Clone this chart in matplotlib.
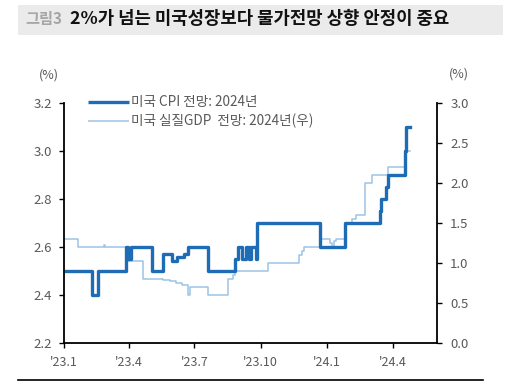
import matplotlib
matplotlib.use("Agg")
import matplotlib.pyplot as plt
from matplotlib.patches import Rectangle
from matplotlib.lines import Line2D
import pandas as pd

plt.rcParams['font.family'] = ['Noto Sans CJK KR', 'DejaVu Sans']

# US CPI forecast for 2024 (left axis, %), step changes
cpi_dates = ["2023-01-01", "2023-02-09", "2023-02-18", "2023-03-28", "2023-03-31", "2023-04-04",
             "2023-05-03", "2023-05-19", "2023-05-31", "2023-06-07", "2023-06-17", "2023-06-22",
             "2023-07-20", "2023-08-27", "2023-08-30", "2023-09-05", "2023-09-11", "2023-09-15",
             "2023-09-18", "2023-09-24", "2023-09-26", "2023-12-22", "2024-01-26", "2024-03-14",
             "2024-03-16", "2024-03-22", "2024-03-25", "2024-04-18", "2024-04-19", "2024-04-25"]
cpi_values = [2.5, 2.4, 2.5, 2.6, 2.55, 2.6,
              2.5, 2.57, 2.54, 2.56, 2.57, 2.6,
              2.5, 2.55, 2.6, 2.55, 2.6, 2.55,
              2.6, 2.55, 2.7, 2.6, 2.7, 2.75,
              2.8, 2.85, 2.9, 3.0, 3.1, 3.1]

# US real GDP forecast for 2024 (right axis, %), step changes
gdp_dates = ["2023-01-01", "2023-01-21", "2023-02-26", "2023-02-28", "2023-03-28", "2023-03-31",
             "2023-04-21", "2023-05-19", "2023-05-28", "2023-06-06", "2023-06-14", "2023-06-23",
             "2023-06-25", "2023-07-20", "2023-08-17", "2023-08-24", "2023-08-26", "2023-10-11",
             "2023-11-23", "2023-11-27", "2023-11-30", "2023-12-22", "2024-01-05", "2024-01-08",
             "2024-01-10", "2024-01-13", "2024-01-26", "2024-02-04", "2024-02-10", "2024-02-23",
             "2024-03-03", "2024-03-25", "2024-04-18", "2024-04-25"]
gdp_values = [1.3, 1.2, 1.22, 1.2, 1.05, 1.03,
              0.8, 0.79, 0.77, 0.75, 0.73, 0.6,
              0.7, 0.6, 0.8, 0.85, 0.9, 1.0,
              1.1, 1.15, 1.2, 1.3, 1.25, 1.2,
              1.27, 1.3, 1.5, 1.55, 1.6, 2.0,
              2.1, 2.2, 2.4, 2.4]

x_ticks = ["2023-01-01", "2023-04-01", "2023-07-01", "2023-10-01", "2024-01-01", "2024-04-01"]
x_tick_labels = ["'23.1", "'23.4", "'23.7", "'23.10", "'24.1", "'24.4"]
left_ticks = [2.2, 2.4, 2.6, 2.8, 3.0, 3.2]
right_ticks = [0.0, 0.5, 1.0, 1.5, 2.0, 2.5, 3.0]

cpi_label = "미국 CPI 전망: 2024년"
gdp_label = "미국 실질GDP  전망: 2024년(우)"
title_prefix = "그림3"
title_main = "2%가 넘는 미국성장보다 물가전망 상향 안정이 중요"

CPI_COLOR = "#1F6CB6"
GDP_COLOR = "#9DC3E6"
TICK_COLOR = "#595959"
W, H = 512, 384

fig = plt.figure(figsize=(5.12, 3.84), dpi=100)
fig.patch.set_facecolor("white")

# Title banner
fig.patches.append(Rectangle((18/W, 1-35/H), (503-18)/W, 30/H,
                             transform=fig.transFigure, facecolor="#EBEBEB",
                             edgecolor="none", zorder=0))
fig.text(25/W, 1-19/H, title_prefix, fontsize=11, fontweight="bold",
         color="#A6A6A6", va="center", ha="left")
fig.text(70/W, 1-19/H, title_main, fontsize=12.8, fontweight="bold",
         color="#111111", va="center", ha="left")
# bottom rule
fig.add_artist(Line2D([18/W, 483/W], [1-380/H, 1-380/H],
                      transform=fig.transFigure, color="black", lw=1.2))

ax = fig.add_axes([63.5/W, 1-343/H, (437-63.5)/W, (343-103)/H])
ax2 = ax.twinx()

cd = pd.to_datetime(cpi_dates)
gd = pd.to_datetime(gdp_dates)

l2, = ax2.step(gd, gdp_values, where="post", color=GDP_COLOR, lw=1.1)
l1, = ax.step(cd, cpi_values, where="post", color=CPI_COLOR, lw=2.4)

ax.set_zorder(ax2.get_zorder() + 1)
ax.patch.set_visible(False)

ax.set_ylim(2.2, 3.2)
ax.set_yticks(left_ticks)
ax.set_yticklabels([f"{v:.1f}" for v in left_ticks])
ax2.set_ylim(0, 3.0)
ax2.set_yticks(right_ticks)
ax2.set_yticklabels([f"{v:.1f}" for v in right_ticks])

ax.set_xlim(pd.Timestamp("2023-01-01"), pd.Timestamp("2024-06-01"))
ax.set_xticks(pd.to_datetime(x_ticks))
ax.set_xticklabels(x_tick_labels)

for a in (ax, ax2):
    a.spines["top"].set_visible(False)
    for s in ("left", "right", "bottom"):
        a.spines[s].set_linewidth(1.3)
        a.spines[s].set_color("black")
    a.tick_params(axis="both", labelsize=9.5, colors="black", labelcolor=TICK_COLOR,
                  length=3.5, width=1.0, direction="out", pad=5)
ax.spines["right"].set_visible(False)
ax2.spines["left"].set_visible(False)
ax2.spines["bottom"].set_visible(False)
ax.tick_params(axis="x", labelsize=9, pad=6)
ax2.tick_params(axis="y", pad=6)

fig.text(49/W, 1-75/H, "(%)", fontsize=9, color=TICK_COLOR, ha="center", va="center")
fig.text(459/W, 1-74/H, "(%)", fontsize=9, color=TICK_COLOR, ha="center", va="center")

# Legend (drawn manually for exact placement)
for yy, col, lw, lab in [(102, CPI_COLOR, 2.4, cpi_label), (121, GDP_COLOR, 1.1, gdp_label)]:
    fig.add_artist(Line2D([88/W, 129/W], [1-yy/H, 1-yy/H], transform=fig.transFigure,
                          color=col, lw=lw, solid_capstyle="butt"))
    fig.text(131/W, 1-yy/H, lab, fontsize=9.8, color=TICK_COLOR, ha="left", va="center")

fig.savefig("out.png", dpi=100)
